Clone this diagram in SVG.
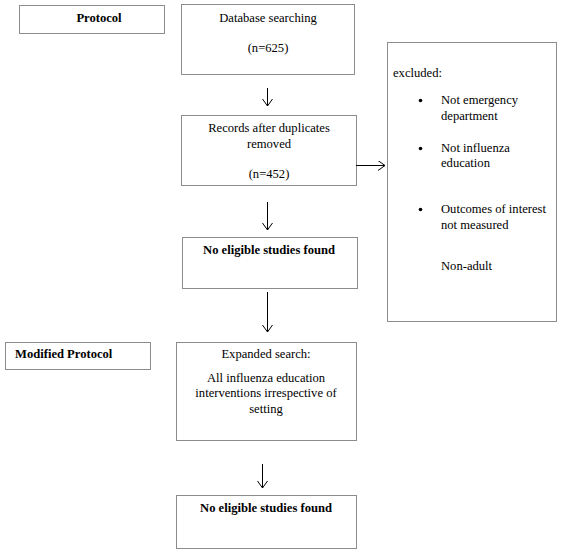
<svg xmlns="http://www.w3.org/2000/svg" width="564" height="553" viewBox="0 0 564 553">
<defs>
<marker id="arr" markerUnits="userSpaceOnUse" markerWidth="12" markerHeight="12" refX="7" refY="5" orient="auto" viewBox="0 0 12 12">
<path d="M0,0 L7,5 L0,10" fill="none" stroke="#000" stroke-width="1"/>
</marker>
</defs>
<style>
.box{fill:#fff;stroke:#8c8c8c;stroke-width:1}
text{font-family:"Liberation Serif","Times New Roman",serif;font-size:12.6px;fill:#000}
.c{text-anchor:middle}
.b{font-weight:bold}
.conn line{stroke:#000;stroke-width:1;marker-end:url(#arr)}
</style>
<rect width="564" height="553" fill="#fff"/>
<g id="protocol">
<rect class="box" x="19.5" y="5.5" width="145" height="28"/>
<text class="c b" x="99" y="22">Protocol</text>
</g>
<g id="database">
<rect class="box" x="181.5" y="4.5" width="173" height="70"/>
<text class="c" x="268" y="22">Database searching</text>
<text class="c" x="268" y="52">(n=625)</text>
</g>
<g id="records">
<rect class="box" x="181.5" y="115.5" width="175" height="70"/>
<text class="c" x="269" y="132">Records after duplicates</text>
<text class="c" x="269" y="148">removed</text>
<text class="c" x="269" y="178">(n=452)</text>
</g>
<g id="excluded">
<rect class="box" x="387.5" y="42.5" width="169" height="279"/>
<text x="393" y="77">excluded:</text>
<circle cx="420.5" cy="100.5" r="1.8" fill="#000"/>
<text x="441" y="104">Not emergency</text>
<text x="441" y="120">department</text>
<circle cx="420.5" cy="148.5" r="1.8" fill="#000"/>
<text x="441" y="152">Not influenza</text>
<text x="441" y="167">education</text>
<circle cx="420.5" cy="209.5" r="1.8" fill="#000"/>
<text x="441" y="213">Outcomes of interest</text>
<text x="441" y="229">not measured</text>
<text x="441" y="270">Non-adult</text>
</g>
<g id="noeligible1">
<rect class="box" x="182.5" y="237.5" width="175" height="51"/>
<text class="c b" x="269" y="254">No eligible studies found</text>
</g>
<g id="modified">
<rect class="box" x="5.5" y="342.5" width="145" height="27"/>
<text class="b" x="15" y="358">Modified Protocol</text>
</g>
<g id="expanded">
<rect class="box" x="176.5" y="342.5" width="180" height="98"/>
<text class="c" x="266" y="358">Expanded search:</text>
<text class="c" x="266" y="382">All influenza education</text>
<text class="c" x="266" y="397">interventions irrespective of</text>
<text class="c" x="266" y="413">setting</text>
</g>
<g id="noeligible2">
<rect class="box" x="176.5" y="495.5" width="180" height="53"/>
<text class="c b" x="266" y="512">No eligible studies found</text>
</g>
<g class="conn">
<line x1="267.5" y1="88" x2="267.5" y2="106"/>
<line x1="356" y1="165.5" x2="385" y2="165.5"/>
<line x1="267.5" y1="202" x2="267.5" y2="230"/>
<line x1="267.5" y1="292" x2="267.5" y2="332"/>
<line x1="262.5" y1="464" x2="262.5" y2="488"/>
</g>
</svg>
